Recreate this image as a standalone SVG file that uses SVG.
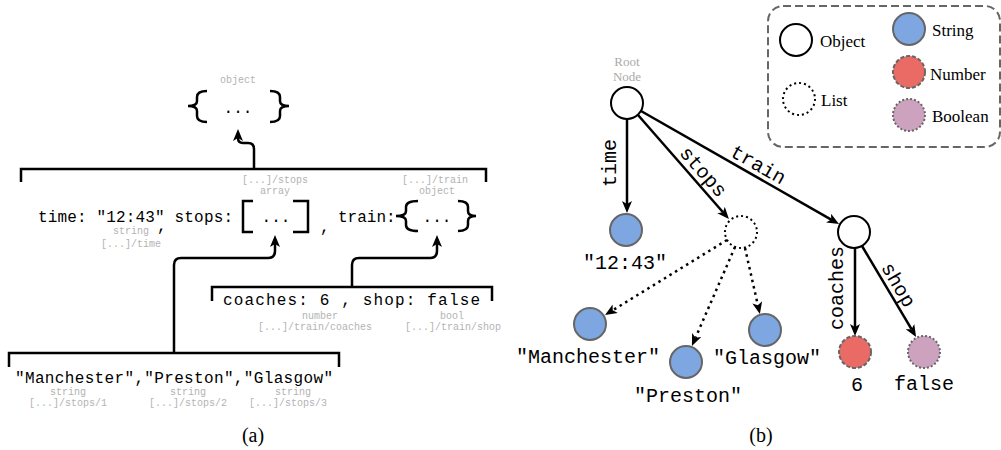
<svg xmlns="http://www.w3.org/2000/svg" width="1001" height="450" viewBox="0 0 1001 450">
<defs>
<marker id="arr" markerUnits="userSpaceOnUse" markerWidth="12" markerHeight="10" viewBox="0 0 12 10" refX="3" refY="5" orient="auto">
<path d="M0,0 L12,5 L0,10 L3,5 z" fill="#000"/>
</marker>
<style>
.br{fill:none;stroke:#000;stroke-width:2.5}
.mono{font-family:"Liberation Mono",monospace;fill:#000}
.a16{font-size:16px}
.g{font-family:"Liberation Mono",monospace;font-size:10px;fill:#b3b3b3;text-anchor:middle}
.m20{font-family:"Liberation Mono",monospace;font-size:20px;fill:#000;text-anchor:middle}
.serif{font-family:"Liberation Serif",serif;fill:#000}
.edge{fill:none;stroke:#000;stroke-width:2.5}
.dot{stroke-dasharray:2.5,4}
.obj{fill:#fff;stroke:#000;stroke-width:2}
.lst{fill:#fff;stroke:#000;stroke-width:2;stroke-dasharray:2,3}
.str{fill:#7EA6E0;stroke:#666;stroke-width:2}
.num{fill:#EA6B66;stroke:#666;stroke-width:2;stroke-dasharray:4,2}
.boo{fill:#CDA2BE;stroke:#666;stroke-width:2;stroke-dasharray:2,2}
</style>
</defs>

<!-- Part (a) -->
<g id="a-object">
<text class="g" x="238" y="83">object</text>
<path class="br" d="M207,91 Q197,91 197,97 L197,101 Q197,106 188,106 Q197,106 197,111 L197,116 Q197,122 207,122"/>
<path class="br" d="M270,91 Q280,91 280,97 L280,101 Q280,106 289,106 Q280,106 280,111 L280,116 Q280,122 270,122"/>
<text class="mono a16" x="238" y="113" text-anchor="middle">...</text>
</g>

<g id="a-root-members">
<path class="br" d="M21,182 V169 H486 V182"/>
<text class="mono a16" x="38" y="222" textLength="195" lengthAdjust="spacing">time: "12:43" stops:</text>
<text class="g" x="131" y="234">string</text>
<text class="g" x="131" y="247">[...]/time</text>
<text class="mono a16" x="157" y="231">,</text>
<text class="g" x="275" y="183">[...]/stops</text>
<text class="g" x="275" y="194">array</text>
<path class="br" d="M253,201 H243 V232 H253"/>
<path class="br" d="M293,201 H308 V232 H293"/>
<text class="mono a16" x="276" y="222" text-anchor="middle">...</text>
<text class="mono a16" x="320" y="232">,</text>
<text class="mono a16" x="338" y="222">train:</text>
<text class="g" x="435" y="183">[...]/train</text>
<text class="g" x="437" y="194">object</text>
<path class="br" d="M418,201 Q406,201 406,207 L406,211 Q406,216 396,216 Q406,216 406,221 L406,225 Q406,231 418,231"/>
<path class="br" d="M458,201 Q468,201 468,207 L468,211 Q468,216 476,216 Q468,216 468,221 L468,225 Q468,231 458,231"/>
<text class="mono a16" x="437" y="222" text-anchor="middle">...</text>
</g>

<g id="a-train-members">
<path class="br" d="M212,301 V287 H492 V301"/>
<text class="mono a16" x="223" y="305" textLength="257" lengthAdjust="spacing">coaches: 6  ,  shop: false</text>
<text class="g" x="320" y="319">number</text>
<text class="g" x="315" y="330">[...]/train/coaches</text>
<text class="g" x="452" y="319">bool</text>
<text class="g" x="453" y="330">[...]/train/shop</text>
</g>

<g id="a-stops-members">
<path class="br" d="M9,367 V353 H339 V367"/>
<text class="mono a16" x="15" y="383" textLength="318" lengthAdjust="spacing">"Manchester","Preston","Glasgow"</text>
<text class="g" x="68" y="395">string</text>
<text class="g" x="188" y="395">string</text>
<text class="g" x="293" y="395">string</text>
<text class="g" x="68" y="406">[...]/stops/1</text>
<text class="g" x="188" y="406">[...]/stops/2</text>
<text class="g" x="288" y="406">[...]/stops/3</text>
</g>

<g id="a-connectors">
<path class="edge" marker-end="url(#arr)" d="M254,169 V149 Q254,143 248,143 H243 Q238,143 238,138"/>
<path class="edge" marker-end="url(#arr)" d="M174,353 V265 Q174,258 181,258 H268 Q275,258 275,251 V244"/>
<path class="edge" marker-end="url(#arr)" d="M352,287 V265 Q352,258 359,258 H430 Q437,258 437,251 V244"/>
</g>

<text class="serif" x="253" y="442" font-size="20" text-anchor="middle">(a)</text>

<!-- Part (b) -->
<g id="legend">
<rect x="768" y="6" width="232" height="141" rx="15" fill="none" stroke="#666" stroke-width="2" stroke-dasharray="8,4"/>
<circle class="obj" cx="796" cy="40" r="16"/>
<text class="serif" x="820" y="47" font-size="17">Object</text>
<circle class="lst" cx="799" cy="99" r="16"/>
<text class="serif" x="821" y="106" font-size="17">List</text>
<circle class="str" cx="909" cy="29" r="16"/>
<text class="serif" x="932" y="36" font-size="17">String</text>
<circle class="num" cx="909" cy="72" r="16"/>
<text class="serif" x="930" y="80" font-size="17">Number</text>
<circle class="boo" cx="909" cy="115" r="16"/>
<text class="serif" x="932" y="122" font-size="17">Boolean</text>
</g>

<g id="b-connectors">
<line class="edge" marker-end="url(#arr)" x1="627" y1="119" x2="627" y2="204"/>
<line class="edge" marker-end="url(#arr)" x1="638" y1="115" x2="723" y2="212.3"/>
<line class="edge" marker-end="url(#arr)" x1="641" y1="111" x2="831.2" y2="219.6"/>
<line class="edge dot" marker-end="url(#arr)" x1="727" y1="240" x2="612.7" y2="310.3"/>
<line class="edge dot" marker-end="url(#arr)" x1="735" y1="247" x2="695.5" y2="337.7"/>
<line class="edge dot" marker-end="url(#arr)" x1="745" y1="248" x2="757.9" y2="305.3"/>
<line class="edge" marker-end="url(#arr)" x1="855" y1="248" x2="855" y2="327"/>
<line class="edge" marker-end="url(#arr)" x1="862" y1="246" x2="911.5" y2="329.2"/>
<text class="m20" transform="translate(610,163) rotate(-90)" y="6">time</text>
<text class="m20" transform="translate(703,172) rotate(48.5)" y="6">stops</text>
<text class="m20" transform="translate(758,165) rotate(29.6)" y="6">train</text>
<text class="m20" transform="translate(837,288) rotate(-90)" y="6">coaches</text>
<text class="m20" transform="translate(898,285) rotate(59.7)" y="6">shop</text>
</g>

<g id="root">
<text class="serif" x="627" y="66" font-size="13" text-anchor="middle" style="fill:#aaa">Root</text>
<text class="serif" x="627" y="81" font-size="13" text-anchor="middle" style="fill:#aaa">Node</text>
<circle class="obj" cx="627" cy="103" r="16"/>
</g>
<g id="time">
<circle class="str" cx="626" cy="230" r="16"/>
<text class="m20" x="625" y="269">"12:43"</text>
</g>
<g id="stops">
<circle class="lst" cx="741" cy="232" r="16"/>
</g>
<g id="train">
<circle class="obj" cx="854" cy="232" r="16"/>
</g>
<g id="manchester">
<circle class="str" cx="590" cy="324" r="16"/>
<text class="m20" x="588" y="363">"Manchester"</text>
</g>
<g id="preston">
<circle class="str" cx="686" cy="362" r="16"/>
<text class="m20" x="688" y="402">"Preston"</text>
</g>
<g id="glasgow">
<circle class="str" cx="765" cy="330" r="16"/>
<text class="m20" x="767" y="364">"Glasgow"</text>
</g>
<g id="coaches">
<circle class="num" cx="855" cy="352" r="16"/>
<text class="m20" x="857" y="391">6</text>
</g>
<g id="shop">
<circle class="boo" cx="924" cy="352" r="16"/>
<text class="m20" x="924" y="390">false</text>
</g>

<text class="serif" x="761" y="442" font-size="20" text-anchor="middle">(b)</text>
</svg>
